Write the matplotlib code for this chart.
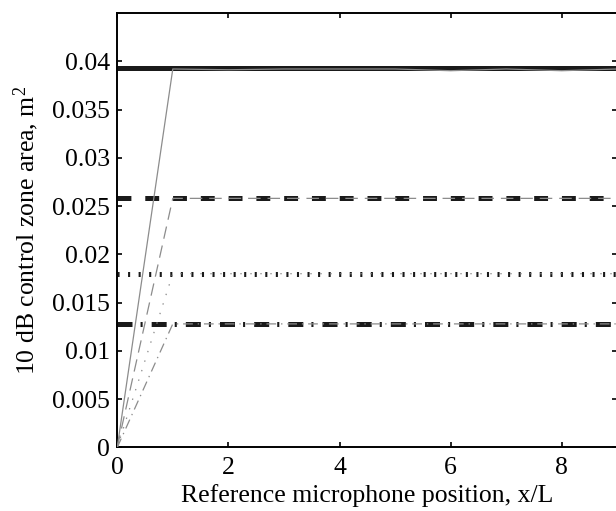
import numpy as np
import matplotlib
matplotlib.use('Agg')
import matplotlib.pyplot as plt

plt.rcParams['font.family'] = ['Liberation Serif', 'DejaVu Serif']
plt.rcParams['mathtext.fontset'] = 'custom'
plt.rcParams['mathtext.rm'] = 'Liberation Serif'
plt.rcParams['mathtext.default'] = 'regular'
plt.rcParams['lines.scale_dashes'] = False

# microphone positions and control zone areas
x_pos = [0, 1, 2, 3, 4, 5, 6, 7, 8, 9]
area_solid = [0, 0.0392, 0.03912, 0.0392, 0.0392, 0.0392, 0.03902, 0.0392, 0.03902, 0.0392]
area_dashed = [0, 0.0258, 0.0258, 0.0258, 0.0258, 0.0258, 0.0258, 0.0258, 0.0258, 0.0258]
area_dotted = [0, 0.0180, 0.0180, 0.0180, 0.0180, 0.0180, 0.0180, 0.0180, 0.0180, 0.0180]
area_dashdot = [0, 0.0128, 0.0128, 0.0128, 0.0128, 0.0128, 0.0128, 0.0128, 0.0128, 0.0128]

# reference levels (thick black lines)
ref_levels = [0.0393, 0.0258, 0.0180, 0.0128]

fig = plt.figure(figsize=(6.16, 5.11), dpi=100)
ax = fig.add_axes([0.1903, 0.1243, 0.8119, 0.8503])

thick_styles = [(0, ()), (0, (10, 10)), (0, (1.5, 6.1)), (0, (10.8, 5.8, 1.5, 6.5))]
for lvl, ls in zip(ref_levels, thick_styles):
    ax.plot([x_pos[0], x_pos[-1]], [lvl, lvl], color='#1a1a1a', lw=3.6,
            linestyle=ls, solid_capstyle='butt', zorder=2)

gray = '0.55'
ax.plot(x_pos, area_solid, color=gray, lw=0.9, zorder=3)
ax.plot(x_pos, area_dashed, color=gray, lw=0.9, linestyle=(0, (9, 5)), zorder=3)
ax.plot(x_pos, area_dotted, color=gray, lw=0.9, linestyle=(0, (1, 6.2)), zorder=3)
ax.plot(x_pos, area_dashdot, color=gray, lw=0.9, linestyle=(0, (7, 3.5, 1, 3.5)), zorder=3)

ax.set_xlim(0, 9)
ax.set_ylim(0, 0.045)
ax.set_xticks([0, 2, 4, 6, 8])
ax.set_yticks(np.arange(0, 0.0401, 0.005))
ax.set_yticklabels(['0', '0.005', '0.01', '0.015', '0.02', '0.025', '0.03', '0.035', '0.04'])

ax.tick_params(direction='in', length=3.6, width=1.2, top=True, right=True,
               labelsize=18.5)
ax.tick_params(axis='y', pad=5)
ax.tick_params(axis='x', pad=6.5)
for s in ax.spines.values():
    s.set_linewidth(1.4)

ax.set_xlabel('Reference microphone position, x/L', fontsize=18.5, labelpad=4)
ax.set_ylabel('10 dB control zone area, m$^{2}$', fontsize=18.5, labelpad=8)

fig.savefig('out.png', dpi=100)
